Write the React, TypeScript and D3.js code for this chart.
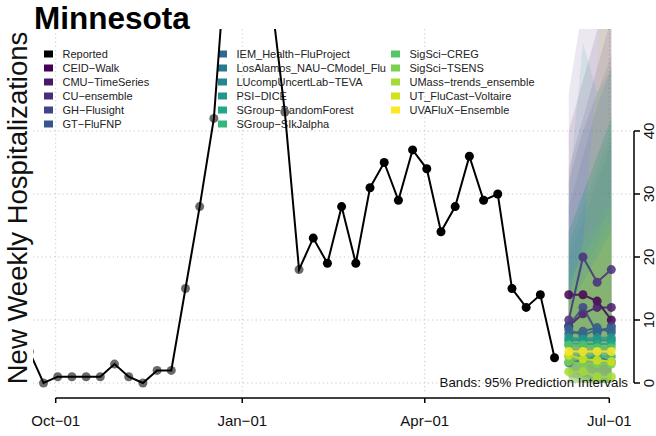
import React from "react";
import * as d3 from "d3";

const FONT = "'Liberation Sans', Arial, Helvetica, sans-serif";

// Reported weekly hospitalizations (weeks ending on Sundays)
const reportedStart = "2022-09-18";
const reportedValues = [5, 0, 1, 1, 1, 1, 3, 1, 0, 2, 2, 15, 28, 42, 72, 88, 80, 62, 43, 18, 23, 19, 28, 19, 31, 35, 29, 37, 34, 24, 28, 36, 29, 30, 15, 12, 14, 4];
const grayCount = 20; // first points drawn in gray

const models = [
  "CEID-Walk", "CMU-TimeSeries", "CU-ensemble", "GH-Flusight", "GT-FluFNP",
  "IEM_Health-FluProject", "LosAlamos_NAU-CModel_Flu", "LUcompUncertLab-TEVA", "PSI-DICE",
  "SGroup-RandomForest", "SGroup-SIkJalpha", "SigSci-CREG", "SigSci-TSENS",
  "UMass-trends_ensemble", "UT_FluCast-Voltaire", "UVAFluX-Ensemble",
];
const forecastDates = ["2023-06-11", "2023-06-18", "2023-06-25", "2023-07-02"];
const medians = [
  [14, 14, 13, 10],
  [9, 11, 12, 12],
  [10, 20, 16, 18],
  [9, 12, 8, 9],
  [7.8, 8.2, 8.8, 8],
  [8.5, 7.5, 8.5, 8.5],
  [3.2, 3.6, 4.2, 3.4],
  [6.8, 6.8, 6.8, 6.8],
  [7.2, 7, 7.2, 7.2],
  [6.2, 6.2, 6.2, 6.2],
  [4.2, 4.2, 4.2, 4.2],
  [6, 6, 5.6, 5.6],
  [3.4, 3, 3, 3],
  [1.8, 1.8, 1, 1],
  [4.4, 3.8, 3.6, 3.4],
  [5, 5, 5, 5],
];
const lowers = [
  [4, 3, 2, 1], [2, 1, 0, 0], [1, 0.5, 0, 0], [2, 1, 0.5, 0], [1, 0.5, 0, 0],
  [2, 1, 1, 0.5], [0, 0, 0, 0], [1, 0.5, 0, 0], [1, 0.5, 0, 0], [0.5, 0, 0, 0],
  [0, 0, 0, 0], [1, 0.5, 0, 0], [0, 0, 0, 0], [0, 0, 0, 0], [0, 0, 0, 0], [0.5, 0, 0, 0],
];
const uppers = [
  [40, 48, 56, 64], [34, 42, 50, 58], [46, 60, 80, 95], [32, 40, 46, 52], [28, 36, 44, 50],
  [24, 30, 36, 42], [22, 28, 34, 40], [20, 26, 32, 38], [30, 54, 46, 50], [24, 30, 36, 42],
  [24, 30, 36, 42], [18, 22, 26, 30], [16, 20, 24, 28], [14, 18, 22, 26], [14, 22, 50, 90], [12, 16, 20, 24],
];

const xTickDates = ["2022-10-01", "2023-01-01", "2023-04-01", "2023-07-01"];
const yTicks = [0, 10, 20, 30, 40];

const legendCols = [
  ["Reported", "CEID-Walk", "CMU-TimeSeries", "CU-ensemble", "GH-Flusight", "GT-FluFNP"],
  ["IEM_Health-FluProject", "LosAlamos_NAU-CModel_Flu", "LUcompUncertLab-TEVA", "PSI-DICE", "SGroup-RandomForest", "SGroup-SIkJalpha"],
  ["SigSci-CREG", "SigSci-TSENS", "UMass-trends_ensemble", "UT_FluCast-Voltaire", "UVAFluX-Ensemble"],
];

const parse = (s: string) => new Date(s + "T00:00:00Z");
const minus = (s: string) => s.replace(/-/g, "\u2212");

export default function App() {
  const x = d3.scaleUtc().domain([parse("2022-10-01"), parse("2023-07-01")]).range([55.7, 609.3]);
  const y = d3.scaleLinear().domain([0, 40]).range([383, 131]);
  const color = (i: number) => d3.interpolateViridis(i / (models.length - 1));
  const colorOf = (name: string) => (name === "Reported" ? "#000" : color(models.indexOf(name)));

  const start = parse(reportedStart);
  const reported = reportedValues.map((v, i) => ({ d: d3.utcDay.offset(start, 7 * i), v }));
  const line = d3.line<{ d: Date; v: number }>().x((p) => x(p.d)).y((p) => y(p.v));

  const fDates = forecastDates.map(parse);
  const fmt = d3.utcFormat("%b-%d");
  const clip = { x: 33, y: 29, w: 600, h: 365 };

  return (
    <svg width={656} height={436} style={{ position: "absolute", left: 0, top: 0, fontFamily: FONT }}>
      <defs>
        <clipPath id="panel">
          <rect x={clip.x} y={clip.y} width={clip.w} height={clip.h} />
        </clipPath>
      </defs>
      <rect width={656} height={436} fill="#fff" />
      {/* gridlines */}
      <g stroke="#c8c8c8" strokeWidth={1} strokeDasharray="1.2,3">
        {yTicks.map((t) => (
          <line key={"h" + t} x1={33} x2={633} y1={y(t)} y2={y(t)} />
        ))}
        {xTickDates.map((s) => (
          <line key={"v" + s} x1={x(parse(s))} x2={x(parse(s))} y1={29} y2={392} />
        ))}
      </g>
      {/* legend */}
      <g fontSize={11} fill="#222">
        {legendCols.map((col, ci) => {
          const sx = [44, 218, 391][ci];
          return col.map((name, ri) => {
            const cy = 54 + ri * 14;
            return (
              <g key={name}>
                <rect x={sx} y={cy - 3.5} width={9} height={7} fill={colorOf(name)} />
                <text x={sx + 18.5} y={cy + 4}>{minus(name)}</text>
              </g>
            );
          });
        })}
      </g>
      <g clipPath="url(#panel)">
        {/* prediction bands */}
        {models.map((m, i) => {
          const a = d3.area<number>()
            .x((_, j) => x(fDates[j]))
            .y0((_, j) => y(lowers[i][j]))
            .y1((v) => y(v));
          return <path key={"band" + m} d={a(uppers[i]) || ""} fill={color(i)} fillOpacity={0.11} stroke="none" />;
        })}
        {/* reported */}
        {reported.slice(0, grayCount).map((p, i) => (
          <circle key={"g" + i} cx={x(p.d)} cy={y(p.v)} r={4.5} fill="#6a6a6a" />
        ))}
        <path d={line(reported) || ""} fill="none" stroke="#000" strokeWidth={2} />
        {reported.slice(grayCount).map((p, i) => (
          <circle key={"b" + i} cx={x(p.d)} cy={y(p.v)} r={4.5} fill="#000" />
        ))}
        {/* forecast medians */}
        {models.map((m, i) => {
          const pts = medians[i].map((v, j) => ({ d: fDates[j], v }));
          return (
            <g key={"med" + m} opacity={0.85}>
              <path d={line(pts) || ""} fill="none" stroke={color(i)} strokeWidth={2} />
              {pts.map((p, j) => (
                <circle key={j} cx={x(p.d)} cy={y(p.v)} r={4.5} fill={color(i)} />
              ))}
            </g>
          );
        })}
      </g>
      <text x={628} y={387} fontSize={13.3} textAnchor="end" fill="#111">Bands: 95% Prediction Intervals</text>
      {/* x axis */}
      <g stroke="#000" strokeWidth={1.5}>
        <line x1={x(parse(xTickDates[0]))} x2={x(parse(xTickDates[xTickDates.length - 1]))} y1={398} y2={398} />
        {xTickDates.map((s) => (
          <line key={s} x1={x(parse(s))} x2={x(parse(s))} y1={398} y2={403} />
        ))}
      </g>
      {xTickDates.map((s) => (
        <text key={"xl" + s} x={x(parse(s))} y={426} fontSize={15} textAnchor="middle" fill="#111">{minus(fmt(parse(s)))}</text>
      ))}
      {/* y axis on right */}
      <g stroke="#000" strokeWidth={1.5}>
        <line x1={634} x2={634} y1={y(0)} y2={y(40)} />
        {yTicks.map((t) => (
          <line key={t} x1={634} x2={640} y1={y(t)} y2={y(t)} />
        ))}
      </g>
      {yTicks.map((t) => (
        <text key={"yl" + t} transform={`translate(654,${y(t)}) rotate(-90)`} fontSize={15} textAnchor="middle" fill="#111">{t}</text>
      ))}
      {/* titles */}
      <text x={34} y={29} fontSize={31.5} fontWeight="bold" fill="#000">Minnesota</text>
      <text transform="translate(27,208) rotate(-90)" fontSize={27.5} textAnchor="middle" fill="#111">New Weekly Hospitalizations</text>
    </svg>
  );
}
